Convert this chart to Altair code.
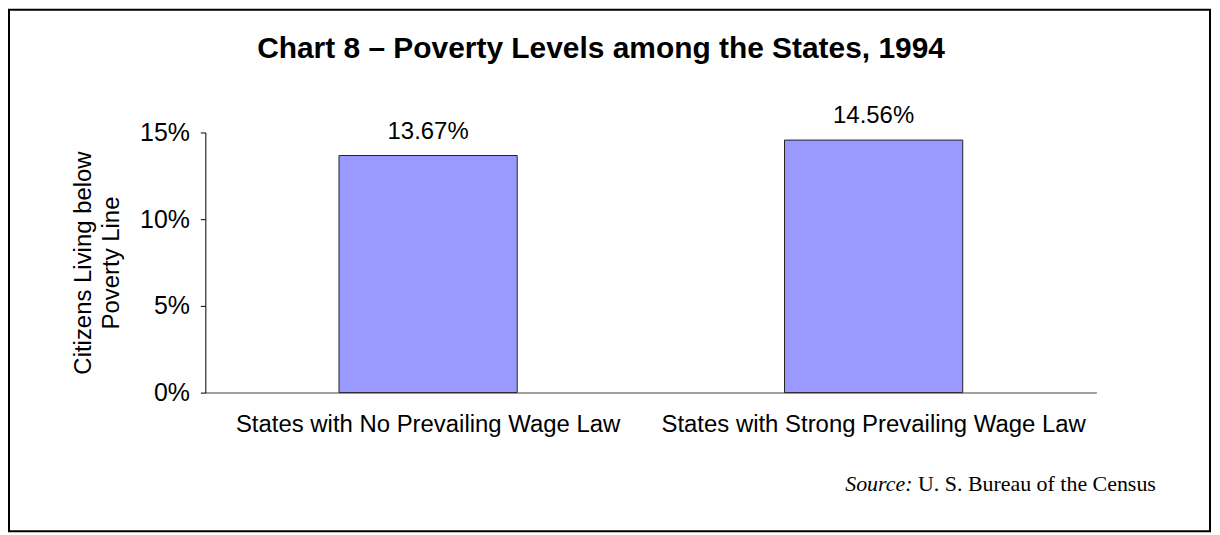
import altair as alt
import pandas as pd

categories = ["States with No Prevailing Wage Law", "States with Strong Prevailing Wage Law"]
poverty = [0.1367, 0.1456]
labels = ["13.67%", "14.56%"]
y_ticks = [0, 0.05, 0.10, 0.15]

title_text = "Chart 8 \u2013 Poverty Levels among the States, 1994"
source_label = "Source:"
source_text = "U. S. Bureau of the Census"

df = pd.DataFrame({"cat": categories, "val": poverty, "lab": labels})

FONT = "Liberation Sans"
W, H = 894, 261

x_enc = alt.X("cat:N", sort=categories, title=None,
              scale=alt.Scale(paddingInner=0.6, paddingOuter=0.3),
              axis=alt.Axis(labelAngle=0, ticks=False, labelFontSize=24, labelFont=FONT,
                            labelColor="#000", labelPadding=20, domainColor="#808080",
                            domainWidth=1.5, labelLimit=600))
y_enc = alt.Y("val:Q", scale=alt.Scale(domain=[0, 0.15], nice=False),
              axis=alt.Axis(values=y_ticks, format=".0%", grid=False, labelFontSize=25,
                            labelFont=FONT, labelColor="#000", tickSize=5, tickColor="#000",
                            domainColor="#000", labelPadding=11,
                            title=["Citizens Living below", "Poverty Line"],
                            titleFont=FONT, titleFontSize=24, titleFontWeight="normal",
                            titleColor="#000", titlePadding=16, titleLineHeight=28))

base = alt.Chart(df)
bars = base.mark_bar(color="#9999FF", stroke="#222222", strokeWidth=1).encode(x=x_enc, y=y_enc)
texts = base.mark_text(fontSize=24, font=FONT, color="#000", dy=-17, baseline="alphabetic").encode(
    x=alt.X("cat:N", sort=categories), y="val:Q", text="lab:N")

one = alt.Data(values=[{"t": title_text, "s": source_label, "r": source_text}])

title = alt.Chart(one).mark_text(fontSize=30, font=FONT, fontWeight="bold", color="#000",
                                 baseline="middle", align="center").encode(
    x=alt.value(397), y=alt.value(-84), text="t:N")
src1 = alt.Chart(one).mark_text(fontSize=22, font="Liberation Serif", fontStyle="italic",
                                color="#000", align="left", baseline="alphabetic").encode(
    x=alt.value(642), y=alt.value(360), text="s:N")
src2 = alt.Chart(one).mark_text(fontSize=22, font="Liberation Serif", color="#000",
                                align="left", baseline="alphabetic").encode(
    x=alt.value(715), y=alt.value(360), text="r:N")
border = alt.Chart(one).mark_rect(fillOpacity=0, stroke="#000", strokeWidth=2).encode(
    x=alt.value(-197), x2=alt.value(1008), y=alt.value(-123), y2=alt.value(400))

chart = alt.layer(bars, texts, title, src1, src2, border).properties(
    width=W, height=H,
    autosize=alt.AutoSizeParams(type="none"),
    padding={"left": 198, "top": 124, "right": 116, "bottom": 141},
).configure_view(strokeWidth=0)

chart.save("out.html", embed_options={"renderer": "svg", "actions": False})
